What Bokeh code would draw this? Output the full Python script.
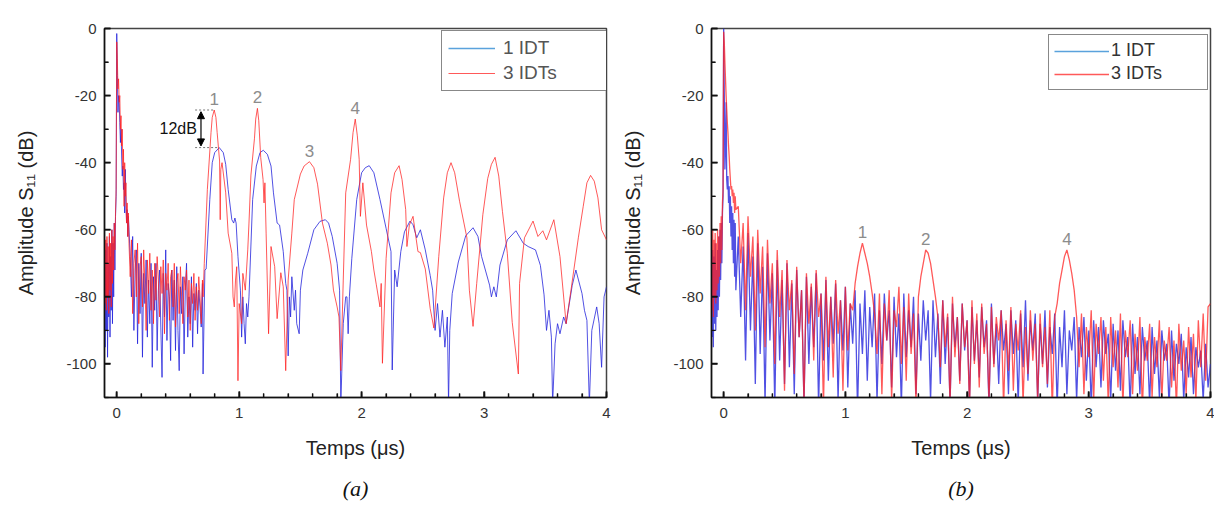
import numpy as np
from bokeh.plotting import figure
from bokeh.layouts import row
from bokeh.models import (Range1d, SingleIntervalTicker, Legend, LegendItem, Label,
                          Arrow, NormalHead, Title, PrintfTickFormatter)
from bokeh.embed import file_html
from bokeh.resources import INLINE

# ---------------- data : panel (a) ----------------
# dense sampled part (t = -0.10 .. 0.10 step 0.005, then 0.11 .. 0.70 step 0.01)
a_head_t = np.linspace(-0.10, 0.10, 41)
a_noise_t = np.linspace(0.11, 0.70, 60)

red_a_head = [-66, -82, -63, -84, -62, -80, -65, -85, -61, -78, -64, -83, -60, -76, -62, -72, -58, -66, -55, -48,
              -4, -9, -18, -15, -22, -20, -30, -26, -35, -30, -42, -36, -53, -40, -50, -46, -58, -52, -62, -55, -64]
blue_a_head = [-72, -95, -66, -90, -64, -98, -70, -86, -62, -92, -68, -84, -60, -88, -64, -80, -58, -72, -56, -50,
               -1.5, -14, -25, -20, -22, -28, -34, -30, -38, -44, -41, -48, -46, -55, -42, -52, -58, -54, -62, -56, -60]
red_a_noise = [-74, -63, -85, -70, -66, -80, -64, -88, -71, -68,
               -83, -66, -76, -90, -69, -79, -67, -84, -72, -88,
               -70, -81, -68, -75, -86, -71, -79, -69, -91, -73,
               -78, -70, -87, -74, -72, -83, -70, -89, -76, -73,
               -85, -71, -80, -88, -74, -78, -72, -86, -75, -90,
               -76, -82, -73, -87, -77, -84, -74, -80, -88, -75]
blue_a_noise = [-68, -80, -62, -90, -72, -66, -94, -70, -85, -67,
                -98, -73, -82, -69, -92, -75, -88, -70, -101, -74,
                -84, -70, -96, -78, -72, -89, -104, -73, -86, -66,
                -93, -76, -80, -99, -72, -87, -75, -96, -71, -90,
                -102, -77, -85, -74, -97, -78, -70, -92, -80, -88,
                -74, -95, -79, -84, -76, -91, -78, -83, -89, -76]
# echo part (t, dB)
red_a_echo = [(0.705, -80), (0.715, -70), (0.74, -48), (0.77, -31), (0.78, -26.5), (0.796, -24.3), (0.81, -26.5),
              (0.82, -31), (0.84, -39.5), (0.845, -57), (0.85, -42), (0.86, -40), (0.89, -49), (0.90, -55),
              (0.91, -61), (0.94, -67), (0.95, -80), (0.96, -83), (0.97, -75), (0.98, -71), (0.99, -105),
              (1.00, -82), (1.02, -88), (1.03, -73), (1.05, -78), (1.07, -66), (1.08, -58), (1.096, -43.7),
              (1.125, -32.7), (1.135, -27), (1.149, -23.8), (1.16, -27.5), (1.176, -38.5), (1.195, -45),
              (1.203, -52), (1.21, -46), (1.22, -61), (1.24, -91), (1.26, -65), (1.29, -71), (1.31, -86.5),
              (1.34, -72.8), (1.36, -77), (1.38, -102), (1.40, -75), (1.43, -61), (1.45, -51), (1.50, -43.4),
              (1.53, -41), (1.574, -39.7), (1.61, -41.5), (1.64, -46.4), (1.68, -58), (1.72, -64), (1.75, -70.5),
              (1.77, -78), (1.80, -83), (1.815, -86), (1.83, -102), (1.85, -75), (1.87, -49), (1.91, -39),
              (1.93, -31), (1.948, -27), (1.965, -32), (1.98, -39), (1.99, -56), (2.01, -46), (2.04, -58.6),
              (2.08, -66.5), (2.10, -72), (2.12, -76.4), (2.15, -83), (2.16, -76), (2.17, -99.8), (2.20, -68.5),
              (2.24, -49), (2.27, -43), (2.306, -40.9), (2.33, -45), (2.36, -54), (2.37, -65), (2.39, -58.6),
              (2.42, -56), (2.46, -66.5), (2.48, -66.8), (2.52, -71.7), (2.56, -83.5), (2.59, -89.3),
              (2.63, -68), (2.67, -50.5), (2.70, -43), (2.73, -40), (2.76, -43), (2.80, -51.5), (2.86, -62.4),
              (2.88, -78), (2.91, -88.8), (2.94, -76), (2.99, -55.5), (3.03, -44.7), (3.06, -40.5),
              (3.09, -38.4), (3.12, -44), (3.15, -54.5), (3.19, -67), (3.23, -87.6), (3.28, -103), (3.29, -76),
              (3.33, -62.4), (3.40, -57.4), (3.44, -62), (3.48, -60.3), (3.51, -63), (3.57, -57), (3.62, -68),
              (3.67, -88), (3.71, -78), (3.77, -62.4), (3.81, -53), (3.84, -46), (3.87, -43.8), (3.90, -45.5),
              (3.93, -50.5), (3.96, -60), (4.00, -63)]
blue_a_echo = [(0.705, -103), (0.72, -72), (0.73, -71.7), (0.76, -51), (0.78, -40), (0.80, -37), (0.837, -35.5),
               (0.87, -37), (0.89, -40.5), (0.91, -48), (0.94, -57), (0.955, -58), (0.965, -56.5), (0.975, -58),
               (0.99, -68), (1.01, -78), (1.02, -92), (1.03, -80), (1.04, -88), (1.05, -94), (1.06, -82),
               (1.07, -86), (1.08, -80), (1.11, -51), (1.14, -41), (1.17, -37), (1.197, -36.3), (1.23, -37.5),
               (1.26, -41), (1.28, -49), (1.31, -58), (1.33, -58.6), (1.36, -66.5), (1.38, -76), (1.39, -78),
               (1.40, -97.6), (1.41, -80), (1.42, -86), (1.43, -74), (1.45, -84), (1.46, -78), (1.47, -88),
               (1.49, -91), (1.50, -78), (1.52, -72), (1.56, -67), (1.61, -60), (1.66, -57.5), (1.704, -57),
               (1.73, -58), (1.76, -62), (1.80, -70), (1.82, -78), (1.83, -112), (1.85, -88), (1.87, -80),
               (1.88, -80), (1.89, -91), (1.90, -80), (1.92, -68.5), (1.96, -51), (2.00, -43), (2.03, -41.5),
               (2.062, -40.9), (2.10, -43), (2.15, -51), (2.20, -59.6), (2.24, -66.5), (2.25, -101.8),
               (2.27, -72), (2.29, -77), (2.32, -66.5), (2.35, -60.6), (2.395, -57.4), (2.42, -58.5),
               (2.45, -62.4), (2.48, -60), (2.52, -66), (2.56, -73.6), (2.58, -78), (2.60, -90), (2.62, -82),
               (2.64, -92), (2.66, -84), (2.68, -95), (2.70, -86), (2.71, -112), (2.72, -90), (2.74, -79),
               (2.79, -69.6), (2.85, -61.8), (2.91, -59.4), (2.95, -62), (2.98, -68), (3.045, -76.5),
               (3.06, -80), (3.08, -77), (3.10, -80), (3.13, -70.5), (3.19, -63), (3.26, -60.3), (3.32, -64),
               (3.36, -65), (3.42, -66), (3.46, -70.6), (3.49, -79.4), (3.51, -90), (3.53, -84), (3.55, -92),
               (3.56, -112), (3.58, -94), (3.60, -88), (3.62, -91), (3.65, -86), (3.67, -88), (3.72, -76.6),
               (3.75, -72), (3.80, -79), (3.82, -84), (3.84, -87), (3.86, -112), (3.88, -90), (3.92, -83),
               (3.94, -88), (3.96, -101), (3.98, -80), (4.00, -77)]

# ---------------- data : panel (b) ----------------
b_head_t = np.linspace(-0.10, 0.10, 41)
b_body_t = np.linspace(0.12, 4.00, 195)

red_b_head = [-62, -84, -60, -86, -63, -80, -61, -82, -64, -78, -60, -76, -62, -74, -58, -70, -56, -66, -52, -48,
              -1, -4, -10, -15, -20, -24, -28, -31, -35, -38, -42, -45, -48, -47, -50, -48, -52, -49, -55, -50, -54]
blue_b_head = [-70, -92, -66, -95, -68, -88, -64, -90, -72, -86, -66, -84, -62, -80, -60, -75, -58, -70, -55, -50,
               0, -20, -42, -35, -22, -45, -48, -44, -52, -47, -58, -50, -62, -53, -66, -55, -70, -57, -74, -58, -78]
red_b_body = [-53, -70, -58, -84, -56, -74, -62, -90, -60, -79,
              -65, -95, -63, -82, -70, -100, -66, -86, -72, -108,
              -69, -84, -75, -103, -71, -92, -78, -112, -73, -88,
              -76, -99, -72, -86, -79, -113, -74, -95, -80, -104,
              -75, -91, -81, -108, -77, -96, -82, -84, -76, -71,
              -67, -64, -67, -70, -74, -79, -85, -97, -79, -109,
              -82, -93, -78, -111, -84, -89, -77, -100, -83, -105,
              -79, -97, -85, -112, -80, -74, -70, -66, -67, -70,
              -75, -80, -86, -101, -81, -95, -85, -112, -80, -98,
              -86, -106, -82, -95, -87, -113, -81, -100, -85, -107,
              -82, -97, -88, -111, -83, -101, -86, -93, -84, -113,
              -87, -102, -83, -108, -88, -96, -84, -112, -89, -103,
              -84, -99, -88, -111, -85, -101, -89, -106, -84, -114,
              -86, -82, -76, -72, -68, -66, -69, -73, -78, -86,
              -101, -85, -109, -89, -98, -84, -111, -88, -97, -86,
              -105, -89, -112, -86, -101, -90, -107, -85, -113, -90,
              -98, -87, -109, -91, -102, -86, -114, -92, -99, -88,
              -110, -92, -101, -87, -111, -93, -99, -89, -107, -93,
              -113, -88, -102, -93, -109, -89, -104, -91, -111, -87,
              -101, -85, -105, -83, -82]
blue_b_body = [-62, -86, -65, -99, -61, -90, -68, -106, -64, -97,
               -71, -112, -67, -93, -73, -113, -69, -99, -75, -106,
               -70, -101, -76, -109, -72, -92, -78, -112, -74, -100,
               -77, -95, -73, -113, -79, -99, -75, -105, -80, -94,
               -76, -111, -81, -96, -77, -107, -82, -94, -78, -114,
               -82, -97, -78, -105, -83, -95, -79, -111, -84, -100,
               -79, -93, -84, -107, -80, -98, -85, -113, -79, -98,
               -84, -95, -80, -109, -85, -99, -81, -93, -84, -111,
               -81, -98, -85, -106, -81, -100, -86, -112, -82, -95,
               -86, -105, -82, -96, -87, -111, -83, -99, -87, -104,
               -83, -95, -87, -113, -82, -100, -88, -106, -84, -96,
               -88, -109, -84, -97, -87, -112, -85, -101, -81, -105,
               -87, -96, -85, -111, -88, -100, -84, -107, -89, -97,
               -85, -113, -89, -101, -84, -109, -90, -96, -86, -111,
               -89, -98, -86, -105, -90, -113, -87, -101, -89, -107,
               -87, -97, -91, -111, -88, -102, -90, -108, -87, -98,
               -92, -113, -88, -103, -92, -109, -89, -99, -93, -112,
               -89, -103, -93, -110, -90, -99, -94, -113, -90, -105,
               -94, -100, -91, -111, -95, -104, -92, -109, -95, -101,
               -96, -111, -94, -107, -100]

series_labels = ["1 IDT", "3 IDTs"]
peaks_a = [("1", 0.80), ("2", 1.15), ("3", 1.57), ("4", 1.95)]
peaks_b = [("1", 1.14), ("2", 1.66), ("4", 2.82)]
gap_label = "12dB"

# axis settings
X_START, X_END = -0.1, 4.0
Y_START, Y_END = -110, 0
X_MAJOR, X_MINOR_N = 1.0, 5
Y_MAJOR, Y_MINOR_N = 20.0, 2

# ---------------- assemble ----------------
def echo_xy(pts):
    t, y = zip(*pts)
    return np.array(t), np.array(y, dtype=float)

rt, ry = echo_xy(red_a_echo)
bt, by = echo_xy(blue_a_echo)
red_a_t = np.concatenate([a_head_t, a_noise_t, rt])
red_a_y = np.concatenate([red_a_head, red_a_noise, ry])
blue_a_t = np.concatenate([a_head_t, a_noise_t, bt])
blue_a_y = np.concatenate([blue_a_head, blue_a_noise, by])
red_b_t = np.concatenate([b_head_t, b_body_t])
red_b_y = np.array(red_b_head + red_b_body, dtype=float)
blue_b_t = red_b_t
blue_b_y = np.array(blue_b_head + blue_b_body, dtype=float)

FONT = "Liberation Sans"
RED = "#ff2222"
BLUE = "#2626dc"
LEG_BLUE = "#5aa2dc"
TICK = "#111111"


def tick_values(start, end, major, n_minor):
    step = major / n_minor
    k0, k1 = int(np.ceil(start / step - 1e-9)), int(np.floor(end / step + 1e-9))
    vals = np.arange(k0, k1 + 1) * step
    is_major = np.isclose(np.mod(vals + 1e-9, major), 0, atol=1e-6)
    return vals[is_major], vals[~is_major]


def make_fig(width, mbl, mbr, mbt, mbb):
    p = figure(width=width, height=512, x_range=Range1d(X_START, X_END), y_range=Range1d(Y_START, Y_END),
               output_backend="svg", toolbar_location=None,
               min_border_left=mbl, min_border_right=mbr, min_border_top=mbt, min_border_bottom=mbb)
    p.xaxis.ticker = SingleIntervalTicker(interval=X_MAJOR, num_minor_ticks=X_MINOR_N)
    p.yaxis.ticker = SingleIntervalTicker(interval=Y_MAJOR, num_minor_ticks=Y_MINOR_N)
    p.xaxis.formatter = PrintfTickFormatter(format="%d")
    p.yaxis.formatter = PrintfTickFormatter(format="%d")
    for ax in (p.xaxis[0], p.yaxis[0]):
        ax.major_tick_in = 6
        ax.major_tick_out = 0
        ax.minor_tick_in = 4
        ax.minor_tick_out = 0
        ax.axis_line_color = TICK
        ax.axis_line_width = 1.5
        ax.major_tick_line_color = TICK
        ax.major_tick_line_width = 1.5
        ax.minor_tick_line_color = TICK
        ax.minor_tick_line_width = 1.2
        ax.major_label_text_font = FONT
        ax.major_label_text_font_size = "15px"
        ax.major_label_text_color = "#333333"
        ax.axis_label_text_font = FONT
        ax.axis_label_text_font_size = "20px"
        ax.axis_label_text_font_style = "normal"
        ax.axis_label_text_color = "#222222"
    p.xaxis.major_label_standoff = 10
    p.yaxis.major_label_standoff = 8
    p.xaxis.axis_label = "Temps (μs)"
    p.yaxis.axis_label = "Amplitude S₁₁ (dB)"
    p.xaxis.axis_label_standoff = 16
    p.yaxis.axis_label_standoff = 26
    p.grid.visible = False
    p.outline_line_color = "#444444"
    p.outline_line_width = 1.5
    return p


def add_inner_ticks(p):
    # inward tick marks drawn as short screen-length rays from the axis lines
    xM, xm = tick_values(X_START, X_END, X_MAJOR, X_MINOR_N)
    yM, ym = tick_values(Y_START, Y_END, Y_MAJOR, Y_MINOR_N)
    for vals, ln, lw in ((xM, 6, 1.6), (xm, 4, 1.3)):
        p.ray(x=vals, y=np.full(len(vals), Y_START), length=ln, angle=np.pi / 2, length_units="screen",
              line_color=TICK, line_width=lw, level="overlay")
    for vals, ln, lw in ((yM, 6, 1.6), (ym, 4, 1.3)):
        p.ray(x=np.full(len(vals), X_START), y=vals, length=ln, angle=0.0, length_units="screen",
              line_color=TICK, line_width=lw, level="overlay")


def add_peak_labels(p, t, y, peaks):
    for txt, t0 in peaks:
        m = (t > t0 - 0.06) & (t < t0 + 0.06)
        i = int(np.argmax(np.where(m, y, -1e9)))
        p.add_layout(Label(x=float(t[i]), y=float(y[i]), text=txt, text_align="center",
                           text_baseline="middle", y_offset=11, text_color="#8c8c8c",
                           text_font=FONT, text_font_size="17px"))


def add_legend(p, red_r, loc, pad, gw, gh, lh, sp, standoff, lw, fs, color):
    dummy = p.line(x=[np.nan, np.nan], y=[np.nan, np.nan], line_color=LEG_BLUE, line_width=1.5)
    leg = Legend(items=[LegendItem(label=series_labels[0], renderers=[dummy]),
                        LegendItem(label=series_labels[1], renderers=[red_r])],
                 location=loc, margin=0, padding=pad, spacing=sp, glyph_width=gw, glyph_height=gh,
                 label_height=lh, label_standoff=standoff, label_width=lw,
                 label_text_font=FONT, label_text_font_size=fs, label_text_color=color,
                 border_line_color="#111111", border_line_width=1.5, background_fill_alpha=1.0)
    p.add_layout(leg)


# ---------------- panel (a) ----------------
pa = make_fig(618, 104, 12, 22, 115)
pa.line(blue_a_t, blue_a_y, line_color=BLUE, line_width=1, line_alpha=0.8)
ra = pa.line(red_a_t, red_a_y, line_color=RED, line_width=1, line_alpha=0.75)
add_inner_ticks(pa)
add_peak_labels(pa, red_a_t, red_a_y, peaks_a)

# gap annotation between echo 1 of each series
m1 = (red_a_t > 0.7) & (red_a_t < 0.9)
y_top = float(red_a_y[m1].max())
m2 = (blue_a_t > 0.7) & (blue_a_t < 0.95)
y_bot = float(blue_a_y[m2].max())
pa.segment(x0=[0.64, 0.64], y0=[y_top, y_bot], x1=[0.80, 0.835], y1=[y_top, y_bot],
           line_color="#777777", line_dash="2 2", line_width=1)
pa.add_layout(Arrow(start=NormalHead(size=7, fill_color="black", line_color="black"),
                    end=NormalHead(size=7, fill_color="black", line_color="black"),
                    x_start=0.688, y_start=y_bot + 0.5, x_end=0.688, y_end=y_top - 0.5,
                    line_color="black", line_width=1.2))
pa.add_layout(Label(x=0.655, y=(y_top + y_bot) / 2, text=gap_label,
                    text_align="right", text_baseline="middle", text_font=FONT,
                    text_font_size="16px", text_color="#111111"))
add_legend(pa, ra, (337, 306), 6, 47, 22, 22, 3, 8, 97, "19px", "#555555")
pa.add_layout(Title(text="(a)", align="center", text_font="Liberation Serif", text_font_style="italic",
                    text_font_size="22px", text_color="#111111", standoff=24), "below")

# ---------------- panel (b) ----------------
pb = make_fig(596, 93, 4, 28, 114)
pb.line(blue_b_t, blue_b_y, line_color=BLUE, line_width=1.3, line_alpha=0.8)
rb = pb.line(red_b_t, red_b_y, line_color=RED, line_width=1.3, line_alpha=0.75)
add_inner_ticks(pb)
add_peak_labels(pb, red_b_t, red_b_y, peaks_b)
add_legend(pb, rb, (337, 307), 5, 55, 20, 20, 2, 2, 91, "18px", "#333333")
pb.add_layout(Title(text="(b)", align="center", text_font="Liberation Serif", text_font_style="italic",
                    text_font_size="22px", text_color="#111111", standoff=24), "below")

layout = row(pa, pb)
open("out.html", "w").write(file_html(layout, INLINE))
